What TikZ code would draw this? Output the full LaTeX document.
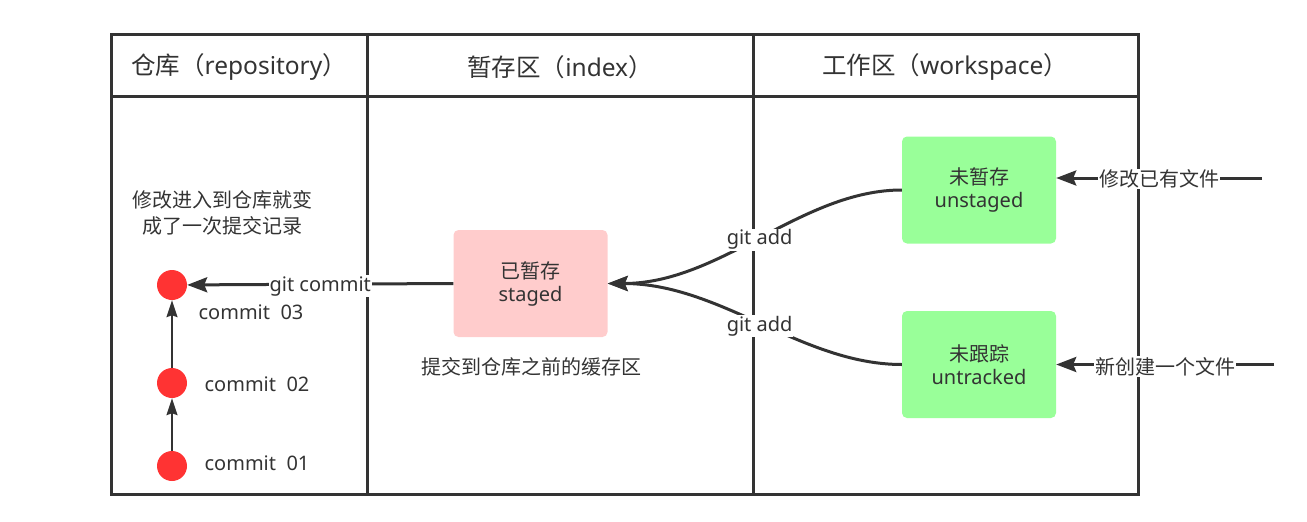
\documentclass[tikz,border=0pt]{standalone}
\usepackage{fontspec}
\setmainfont{Noto Sans}
\newfontfamily\zh{Noto Sans CJK SC}
\usetikzlibrary{arrows.meta}
\definecolor{trait}{HTML}{333333}
\definecolor{rouge}{HTML}{FF3333}
\definecolor{rose}{HTML}{FFCCCC}
\definecolor{vert}{HTML}{99FF99}

\begin{document}
\begin{tikzpicture}[x=1pt,y=-1pt]
% Définition des styles
\tikzset{
grille/.style={draw=trait, line width=3pt},
titre/.style={font=\fontsize{24.5}{28}\selectfont, text=trait},
texte/.style={font=\fontsize{20}{26}\selectfont, text=trait, align=center},
etat/.style={texte, font=\fontsize{20}{23}\selectfont, rounded corners=5pt, minimum width=154pt, minimum height=107pt, inner sep=0pt},
commit/.style={circle, fill=rouge, minimum size=30pt, inner sep=0pt},
fleche/.style={draw=trait, line width=3pt, -{Stealth[length=20pt,width=15pt,inset=3pt]}},
petite/.style={draw=trait, line width=1.5pt, -{Stealth[length=17pt,width=11pt,inset=2pt]}},
etiquette/.style={texte, fill=white, inner sep=1pt}
}
\useasboundingbox (0,0) rectangle (1307,522);
% Tableau
\draw[grille] (111,34) rectangle (1138,494);
\draw[grille] (111,96) -- (1138,96);
\draw[grille] (367,34) -- (367,494);
\draw[grille] (753,34) -- (753,494);
\node[titre] (repo) at (239,67) {{\zh 仓库（}repository{\zh ）}};
\node[titre] (index) at (560,67) {{\zh 暂存区（}index{\zh ）}};
\node[titre] (work) at (945,67) {{\zh 工作区（}workspace{\zh ）}};
% Dépôt
\node[texte] (note) at (222,213) {{\zh 修改进入到仓库就变}\\{\zh 成了一次提交记录}};
\node[commit] (c3) at (172,285) {};
\node[commit] (c2) at (172,383) {};
\node[commit] (c1) at (172,466) {};
\node[texte] (l3) at (251,312) {commit\ \ 03};
\node[texte] (l2) at (257,384) {commit\ \ 02};
\node[texte] (l1) at (257,463) {commit\ \ 01};
\draw[petite] (c1) -- (c2);
\draw[petite] (c2) -- (c3);
% Index
\node[etat, fill=rose] (staged) at (530.5,283.5) {{\zh 已暂存}\\staged};
\node[texte] (cache) at (531,367) {{\zh 提交到仓库之前的缓存区}};
% Espace de travail
\node[etat, fill=vert] (unstaged) at (979,190) {{\zh 未暂存}\\unstaged};
\node[etat, fill=vert] (untracked) at (979,364.5) {{\zh 未跟踪}\\untracked};
\coordinate (modif) at (1262,178);
\coordinate (nouveau) at (1274,364.5);
% Flèches
\draw[fleche] (staged.west) -- node[etiquette, yshift=-2pt] {git commit} (c3);
\draw[fleche] (unstaged.west) .. controls +(-100,0) and +(113,0) .. node[etiquette, yshift=-3pt] {git add} (staged.east);
\draw[fleche] (untracked.west) .. controls +(-100,0) and +(113,0) .. node[etiquette, yshift=-2pt] {git add} (staged.east);
\draw[fleche] (modif) -- node[etiquette, yshift=-1pt] {{\zh 修改已有文件}} (modif -| unstaged.east);
\draw[fleche] (nouveau) -- node[etiquette, yshift=-2pt] {{\zh 新创建一个文件}} (untracked.east);
\end{tikzpicture}
\end{document}
